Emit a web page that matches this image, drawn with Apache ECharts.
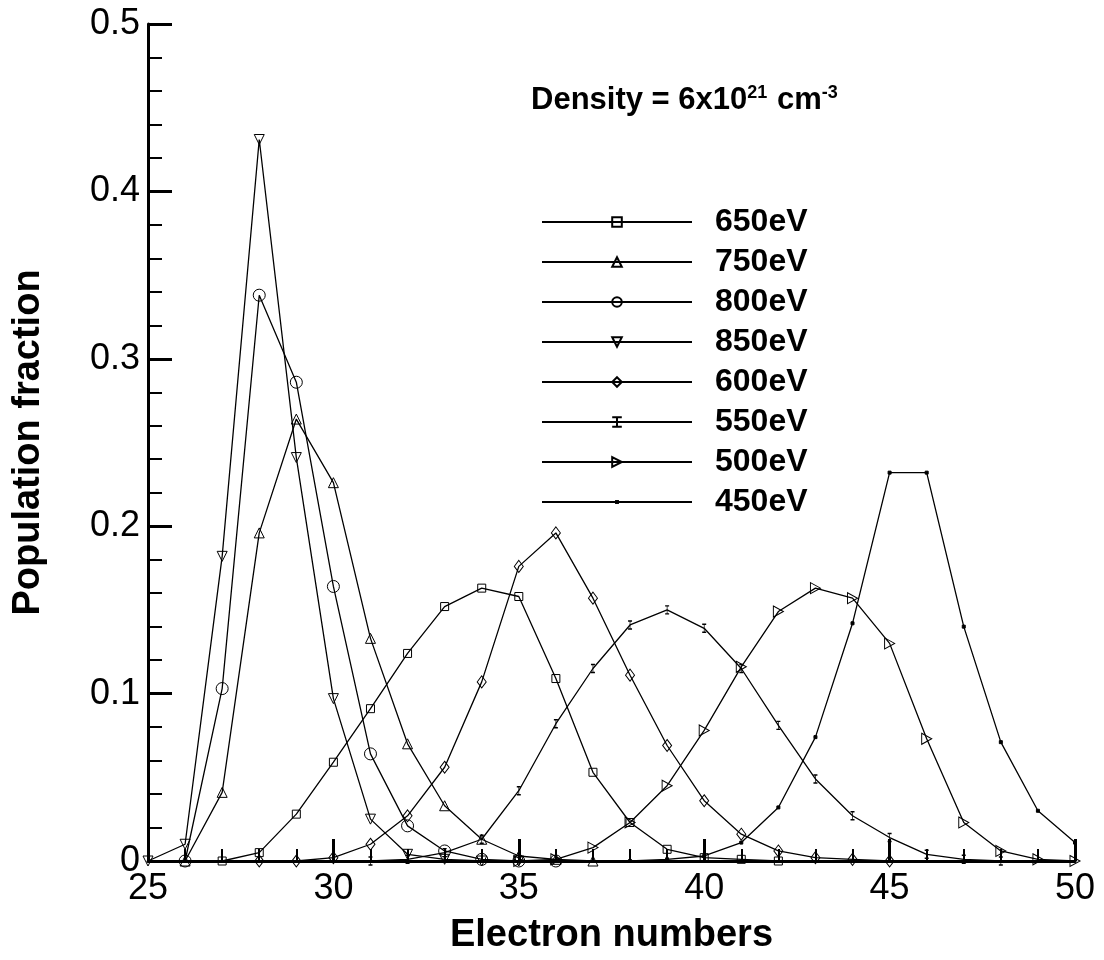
<!DOCTYPE html>
<html>
<head>
<meta charset="utf-8">
<script src="https://cdn.jsdelivr.net/npm/echarts@6/dist/echarts.min.js"></script>
<style>
  html, body { margin: 0; padding: 0; background: #fff; }
  #main { width: 1104px; height: 960px; }
</style>
</head>
<body>
<div id="main"></div>
<script>
// electron numbers on the x axis
var electrons = [25, 26, 27, 28, 29, 30, 31, 32, 33, 34, 35, 36, 37, 38, 39, 40, 41, 42, 43, 44, 45, 46, 47, 48, 49, 50];

// population fraction per temperature, null = not plotted
var e650 = [null, null, 0, 0.005, 0.028, 0.059, 0.091, 0.124, 0.152, 0.163, 0.158, 0.109, 0.053, 0.023, 0.007, 0.002, 0.001, 0, null, null, null, null, null, null, null, null];
var e750 = [null, 0, 0.041, 0.196, 0.264, 0.226, 0.133, 0.070, 0.033, 0.013, 0.003, 0.001, 0, null, null, null, null, null, null, null, null, null, null, null, null, null];
var e800 = [null, 0, 0.103, 0.338, 0.286, 0.164, 0.064, 0.021, 0.006, 0.001, 0, 0, null, null, null, null, null, null, null, null, null, null, null, null, null, null];
var e850 = [0, 0.010, 0.182, 0.431, 0.241, 0.097, 0.025, 0.004, 0.001, 0, 0, null, null, null, null, null, null, null, null, null, null, null, null, null, null, null];
var e600 = [null, null, null, 0, 0, 0.002, 0.010, 0.027, 0.056, 0.107, 0.176, 0.196, 0.157, 0.111, 0.069, 0.036, 0.016, 0.006, 0.002, 0.001, 0, null, null, null, null, null];
var e550 = [null, null, null, null, null, null, 0, 0.001, 0.005, 0.013, 0.042, 0.082, 0.115, 0.141, 0.150, 0.139, 0.115, 0.081, 0.049, 0.027, 0.014, 0.004, 0.001, 0, null, null];
var e500 = [null, null, null, null, null, null, null, null, null, null, 0, 0.001, 0.008, 0.023, 0.045, 0.078, 0.116, 0.149, 0.163, 0.157, 0.130, 0.073, 0.023, 0.006, 0.001, 0];
var e450 = [null, null, null, null, null, null, null, null, null, null, null, null, null, 0, 0.001, 0.003, 0.011, 0.032, 0.074, 0.142, 0.232, 0.232, 0.140, 0.071, 0.030, 0.011];

var names = ['650eV', '750eV', '800eV', '850eV', '600eV', '550eV', '500eV', '450eV'];
var values = [e650, e750, e800, e850, e600, e550, e500, e450];

var xTicks = [25, 30, 35, 40, 45, 50];
var yTicks = [0, 0.1, 0.2, 0.3, 0.4, 0.5];

// marker look per series (450eV: tiny dot padded inside a 10x10 box so the legend one stays small)
var symbols = [
    { symbol: 'rect', size: 8 },
    { symbol: 'triangle', size: 10 },
    { symbol: 'circle', size: 12 },
    { symbol: 'triangle', size: 10, rotate: 180 },
    { symbol: 'diamond', size: [9, 12] },
    { symbol: 'path://M0,0 L4,0 M2,0 L2,10 M0,10 L4,10', size: [4, 8] },
    { symbol: 'path://M0,0 L10,5 L0,10 Z', size: [10, 11] },
    { symbol: 'path://M0,0 L0,0 M4,4 L6,4 L6,6 L4,6 Z M10,10 L10,10', size: 15, filled: true }
];

var FONT = 'Liberation Sans, Arial, sans-serif';

var series = names.map(function (name, i) {
    var pts = [];
    values[i].forEach(function (v, k) {
        if (v !== null) pts.push([electrons[k], v]);
    });
    var s = symbols[i];
    return {
        name: name,
        type: 'line',
        data: pts,
        symbol: s.symbol,
        symbolSize: s.size,
        symbolRotate: s.rotate || 0,
        showAllSymbol: true,
        lineStyle: { color: '#000', width: 1.3 },
        itemStyle: {
            color: s.filled ? '#000' : 'rgba(255,255,255,0)',
            borderColor: '#000',
            borderWidth: 1
        },
        emphasis: { disabled: true },
        animation: false
    };
});

var myChart = echarts.init(document.getElementById('main'));

var option = {
    backgroundColor: '#fff',
    title: {
        left: 526,
        top: 79,
        text: '{b|Density = 6x10}{s|21}{b| cm}{s|-3}',
        textStyle: {
            rich: {
                b: { fontFamily: FONT, fontWeight: 'bold', fontSize: 31, lineHeight: 32, color: '#000' },
                s: { fontFamily: FONT, fontSize: 18, lineHeight: 32, verticalAlign: 'top', color: '#000', padding: [0, 1, 0, 0] }
            }
        }
    },
    legend: {
        data: names,
        orient: 'vertical',
        left: 536,
        top: 201,
        itemWidth: 150,
        itemHeight: 12,
        itemGap: 8,
        selectedMode: false,
        textStyle: {
            fontFamily: FONT,
            fontWeight: 'bold',
            fontSize: 32,
            lineHeight: 32,
            color: '#000',
            padding: [0, 0, 0, 18]
        }
    },
    grid: { left: 148, right: 29, top: 24, bottom: 98 },
    xAxis: {
        type: 'value',
        min: xTicks[0],
        max: xTicks[xTicks.length - 1],
        interval: 5,
        name: 'Electron numbers',
        nameLocation: 'middle',
        nameGap: 56,
        nameTextStyle: { fontFamily: FONT, fontWeight: 'bold', fontSize: 38, color: '#000' },
        axisLine: { lineStyle: { color: '#000', width: 3 } },
        axisTick: { inside: true, length: 22, lineStyle: { color: '#000', width: 3 } },
        minorTick: { show: true, splitNumber: 5, length: 12, lineStyle: { color: '#000', width: 2 } },
        axisLabel: { fontFamily: FONT, fontSize: 36, color: '#000', margin: 10 },
        splitLine: { show: false }
    },
    yAxis: {
        type: 'value',
        min: yTicks[0],
        max: yTicks[yTicks.length - 1],
        interval: 0.1,
        name: 'Population fraction',
        nameLocation: 'middle',
        nameGap: 100,
        nameTextStyle: { fontFamily: FONT, fontWeight: 'bold', fontSize: 38, color: '#000' },
        axisLine: { show: true, lineStyle: { color: '#000', width: 3 } },
        axisTick: { show: true, inside: true, length: 24, lineStyle: { color: '#000', width: 3 } },
        minorTick: { show: true, splitNumber: 5, length: 14, lineStyle: { color: '#000', width: 2 } },
        axisLabel: { fontFamily: FONT, fontSize: 36, color: '#000', margin: 8 },
        splitLine: { show: false }
    },
    series: series
};

myChart.setOption(option);
</script>
</body>
</html>
